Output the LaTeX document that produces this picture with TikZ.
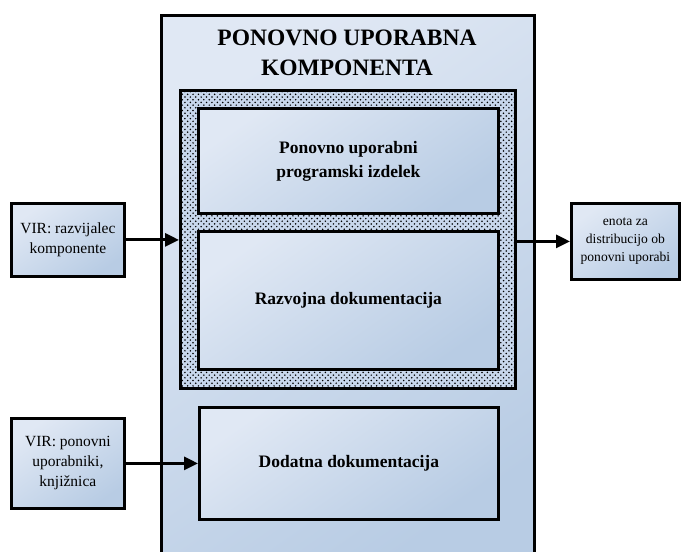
\documentclass[tikz,border=0pt]{standalone}
\usepackage{fontspec}
\setmainfont{Liberation Serif}
\usetikzlibrary{arrows.meta,patterns}
\definecolor{bluelight}{RGB}{224,232,244}
\definecolor{bluedark}{RGB}{184,204,228}
\definecolor{dotfill}{RGB}{200,215,236}
% staggered dot grid used for the region around the product
\pgfdeclarepatternformonly{sparsedots}{\pgfqpoint{-1pt}{-1pt}}{\pgfqpoint{6.4pt}{6.4pt}}{\pgfqpoint{5.4pt}{5.4pt}}{%
  \pgfpathcircle{\pgfqpoint{1.35pt}{1.35pt}}{0.85pt}%
  \pgfpathcircle{\pgfqpoint{4.05pt}{4.05pt}}{0.85pt}%
  \pgfusepath{fill}%
}
\tikzset{
  grad/.style={top color=bluelight, bottom color=bluedark, shading angle=35},
  box/.style={draw=black, line width=2.8pt, grad, inner sep=0pt, align=center},
  srcbox/.style={box, font=\fontsize{15.5}{20}\selectfont},
  inbox/.style={box, font=\bfseries\fontsize{17.5}{24}\selectfont},
  conn/.style={line width=3pt, -{Triangle[length=14pt,width=13pt]}}
}
\begin{document}
\begin{tikzpicture}[x=1pt,y=-1pt]
\useasboundingbox (0,0) rectangle (681,552);
\clip (0,0) rectangle (681,552);
% outer component (open at the bottom edge)
\node[box, minimum width=373pt, minimum height=560pt, anchor=north west] (outer) at (160,14) {};
\node[font=\bfseries\fontsize{23.5}{30}\selectfont, align=center] (title) at (347,53) {PONOVNO UPORABNA\\KOMPONENTA};
% dotted region holding the product and its documentation
\path[fill=dotfill] (179,89) rectangle (514,387);
\node[draw=black, line width=2.8pt, pattern=sparsedots, pattern color=black,
      minimum width=335pt, minimum height=298pt, anchor=north west, inner sep=0pt] (dots) at (179,89) {};
\node[inbox, minimum width=300pt, minimum height=105pt, anchor=north west] (prod) at (197,107) {Ponovno uporabni\\programski izdelek};
\node[inbox, minimum width=300pt, minimum height=138pt, anchor=north west] (razv) at (197,230) {Razvojna dokumentacija};
\node[inbox, minimum width=299pt, minimum height=112pt, anchor=north west] (dod) at (198,406) {Dodatna dokumentacija};
% sources and destination
\node[srcbox, minimum width=113pt, minimum height=73pt, anchor=north west] (srcA) at (10,202) {VIR: razvijalec\\komponente};
\node[srcbox, minimum width=113pt, minimum height=90pt, anchor=north west] (srcB) at (10,417) {VIR: ponovni\\uporabniki,\\knjižnica};
\node[srcbox, font=\fontsize{13.6}{18}\selectfont, minimum width=108pt, minimum height=76pt, anchor=north west] (dest) at (570,202) {enota za\\distribucijo ob\\ponovni uporabi};
% connectors
\draw[conn] (srcA.east) -- (srcA.east -| dots.west);
\draw[conn] (dest.west -| dots.east) -- (dest.west);
\draw[conn] (srcB.east) -- (srcB.east -| dod.west);
\end{tikzpicture}
\end{document}
